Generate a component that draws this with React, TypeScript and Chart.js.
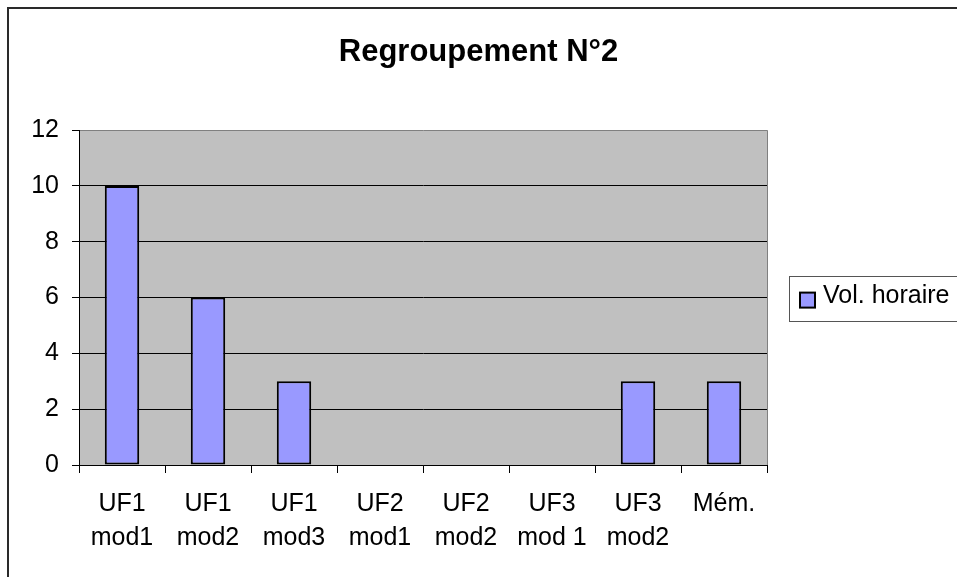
import React, { useEffect, useRef } from "react";
import { Chart, registerables } from "chart.js";

Chart.register(...registerables);

// ---- data ----
const categories: string[][] = [
  ["UF1", "mod1"],
  ["UF1", "mod2"],
  ["UF1", "mod3"],
  ["UF2", "mod1"],
  ["UF2", "mod2"],
  ["UF3", "mod 1"],
  ["UF3", "mod2"],
  ["Mém."],
];
const volHoraire: number[] = [10, 6, 3, 0, 0, 0, 3, 3];
const seriesLabel = "Vol. horaire";
const titleText = "Regroupement N°2";
const yMin = 0;
const yMax = 12;
const yStep = 2;

const FONT = "Arial, 'Liberation Sans', sans-serif";
const W = 957;
const H = 577;
const LABEL_SIZE = 25;

const decorPlugin = {
  id: "decor",
  beforeDraw(chart: any) {
    const { ctx, chartArea } = chart;
    ctx.save();
    ctx.fillStyle = "#ffffff";
    ctx.fillRect(0, 0, chart.width, chart.height);
    // page frame
    ctx.fillStyle = "#2a2a2a";
    ctx.fillRect(7, 7, chart.width - 7, 2);
    ctx.fillRect(7, 7, 2, chart.height - 7);
    // plot background
    ctx.fillStyle = "#c0c0c0";
    ctx.fillRect(chartArea.left, chartArea.top, chartArea.right - chartArea.left, chartArea.bottom - chartArea.top);
    ctx.restore();
  },
  beforeDatasetsDraw(chart: any) {
    const { ctx, chartArea } = chart;
    ctx.save();
    ctx.strokeStyle = "#808080";
    ctx.lineWidth = 1;
    ctx.beginPath();
    ctx.moveTo(Math.round(chartArea.right) + 0.5, chartArea.top);
    ctx.lineTo(Math.round(chartArea.right) + 0.5, chartArea.bottom);
    ctx.stroke();
    ctx.restore();
  },
  afterDraw(chart: any) {
    const { ctx, chartArea } = chart;
    const ds = chart.data.datasets[0];
    const boxLeft = chartArea.right + 22;
    const midY = (chartArea.top + chartArea.bottom) / 2;
    const boxTop = midY - 22;
    ctx.save();
    ctx.strokeStyle = "#555555";
    ctx.lineWidth = 1;
    ctx.strokeRect(Math.round(boxLeft) + 0.5, Math.round(boxTop) + 0.5, chart.width, 45);
    // swatch
    const sx = boxLeft + 11;
    const sy = midY - 5;
    ctx.fillStyle = ds.backgroundColor;
    ctx.fillRect(sx, sy, 15, 15);
    ctx.strokeStyle = "#000000";
    ctx.lineWidth = 2;
    ctx.strokeRect(sx, sy, 15, 15);
    // text
    ctx.fillStyle = "#000000";
    ctx.font = `${LABEL_SIZE}px ${FONT}`;
    ctx.textBaseline = "middle";
    ctx.textAlign = "left";
    ctx.fillText(ds.label, boxLeft + 34, midY - 1);
    ctx.restore();
  },
};

export default function App() {
  const ref = useRef<HTMLCanvasElement | null>(null);

  useEffect(() => {
    if (!ref.current) return;
    const chart = new Chart(ref.current, {
      type: "bar",
      data: {
        labels: categories,
        datasets: [
          {
            label: seriesLabel,
            data: volHoraire,
            backgroundColor: "#9999ff",
            borderColor: "#000000",
            borderWidth: 2,
            borderSkipped: false,
            barPercentage: 0.4,
            categoryPercentage: 1,
          },
        ],
      },
      options: {
        animation: false,
        responsive: false,
        devicePixelRatio: 1,
        layout: { padding: { left: 0, right: 0, top: 0, bottom: 0 } },
        plugins: {
          legend: { display: false },
          tooltip: { enabled: false },
          title: {
            display: true,
            text: titleText,
            color: "#000000",
            font: { family: FONT, size: 31, weight: "bold", lineHeight: 1.2 },
            padding: { top: 34, bottom: 59 },
          },
        },
        scales: {
          x: {
            offset: true,
            grid: {
              display: true,
              offset: true,
              drawOnChartArea: false,
              drawTicks: true,
              tickLength: 8,
              color: "#000000",
            },
            border: { display: true, color: "#000000", width: 1 },
            ticks: {
              color: "#000000",
              font: { family: FONT, size: LABEL_SIZE, lineHeight: 1.36 },
              padding: 14,
              maxRotation: 0,
              autoSkip: false,
            },
            afterFit: (s: any) => {
              s.height = 112;
            },
          },
          y: {
            min: yMin,
            max: yMax,
            grid: {
              color: (c: any) => (c.tick && c.tick.value === yMax ? "#808080" : "#000000"),
              tickColor: "#000000",
              tickLength: 7,
              drawTicks: true,
            },
            border: { display: true, color: "#000000", width: 1 },
            ticks: {
              stepSize: yStep,
              color: "#000000",
              font: { family: FONT, size: LABEL_SIZE },
              padding: 13,
            },
            afterFit: (s: any) => {
              s.width = 79;
            },
          },
          spacer: {
            type: "linear",
            position: "right",
            display: true,
            grid: { display: false, drawTicks: false },
            border: { display: false },
            ticks: { display: false },
            afterFit: (s: any) => {
              s.width = 190;
            },
          },
        },
      },
      plugins: [decorPlugin],
    } as any);
    return () => chart.destroy();
  }, []);

  return (
    <div style={{ position: "fixed", left: 0, top: 0, width: W, height: H }}>
      <canvas ref={ref} width={W} height={H} style={{ display: "block" }} />
    </div>
  );
}
